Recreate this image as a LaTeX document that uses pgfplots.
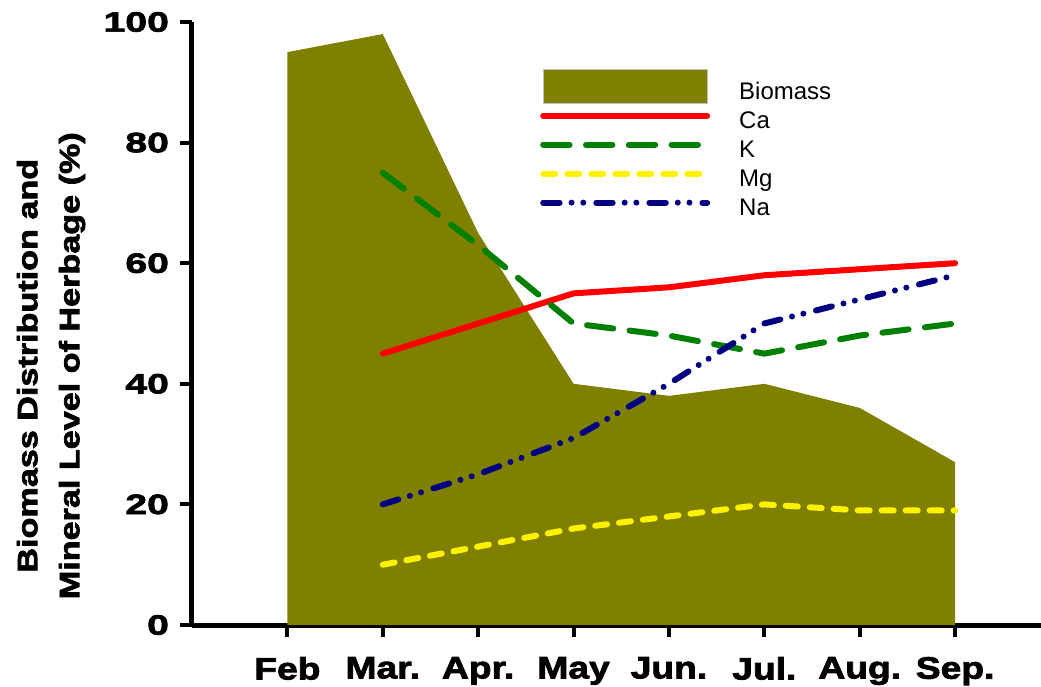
\documentclass[border=0pt]{standalone}
\usepackage{fontspec}
\setmainfont{Liberation Sans}
\newfontfamily\heavyY[FakeStretch=1.4,FakeBold=2.5]{Liberation Sans Bold}
\newfontfamily\heavyX[FakeStretch=1.2,FakeBold=2.5]{Liberation Sans Bold}
\newfontfamily\heavyL[FakeStretch=1.22,FakeBold=2.5]{Liberation Sans Bold}
\usepackage{pgfplots}
\pgfplotsset{compat=1.18}
\definecolor{bio}{HTML}{808000}
\definecolor{kgreen}{HTML}{008000}
\definecolor{navy}{HTML}{000080}
\begin{document}
\begin{tikzpicture}
\begin{axis}[
  scale only axis, width=424.5bp, height=301.5bp,
  xmin=-1, xmax=7.9, ymin=0, ymax=100,
  axis x line*=bottom, axis y line*=left,
  axis line style={line width=2.5bp},
  xtick={0,...,7}, xticklabels={Feb,Mar.,Apr.,May,Jun.,Jul.,Aug.,Sep.},
  ytick={0,20,...,100},
  tick align=outside, major tick length=6bp,
  tick style={line width=2bp, black},
  /pgf/number format/assume math mode=true,
  yticklabel style={font=\heavyY\fontsize{14bp}{16bp}\selectfont, xshift=-2bp},
  xticklabel style={font=\heavyX\fontsize{15.5bp}{17bp}\selectfont, yshift=-6.5bp},
  ylabel={Biomass Distribution and\\Mineral Level of Herbage (\%)},
  ylabel style={align=center, font=\heavyL\fontsize{14bp}{21bp}\selectfont,
    at={(axis description cs:-0.166,0.43)}, anchor=center},
  legend style={draw=none, fill=none, at={(axis cs:2.65,92.2)}, anchor=north west,
    inner sep=0pt, outer sep=0pt, row sep=3.5bp,
    font=\fontsize{12bp}{14bp}\selectfont,
    nodes={inner sep=0pt, text height=8.5bp, text depth=2.5bp, anchor=west}},
  legend cell align=left,
  legend image code/.code={\path[draw=none,fill=none] (0bp,0bp) -- (98bp,0bp); \draw[#1] (0bp,3.5bp) -- (82bp,3.5bp);},
  every axis plot/.append style={line width=3bp, line cap=round},
]
\addplot[fill=bio, draw=none,
  legend image code/.code={\path[draw=none,fill=none] (0bp,0bp) -- (98bp,0bp); \filldraw[fill=bio, draw=lightgray, line width=0.6bp] (0bp,-5bp) rectangle (82bp,12bp);}]
  coordinates {(0,95)(1,98)(2,65)(3,40)(4,38)(5,40)(6,36)(7,27)} \closedcycle;
\addlegendentry{Biomass}
\addplot[red] coordinates {(1,45)(2,50)(3,55)(4,56)(5,58)(6,59)(7,60)};
\addlegendentry{Ca}
\addplot[kgreen, dash pattern=on 13.2bp off 8.2bp] coordinates {(1,75)(2,63)(3,50)(4,48)(5,45)(6,48)(7,50)};
\addlegendentry{K}
\addplot[yellow, dash pattern=on 6bp off 6bp] coordinates {(1,10)(2,13)(3,16)(4,18)(5,20)(6,19)(7,19)};
\addlegendentry{Mg}
\addplot[navy, dash pattern=on 8.2bp off 6bp on 0bp off 5.85bp on 0bp off 6.5bp] coordinates {(1,20)(2,25)(3,31)(4,40)(5,50)(6,54)(7,58)};
\addlegendentry{Na}
\coordinate (bl) at (rel axis cs:0,0);
\end{axis}
\pgfresetboundingbox
\path (bl) ++(-96bp,-31bp) rectangle ++(520.5bp,343.5bp);
\end{tikzpicture}
\end{document}
